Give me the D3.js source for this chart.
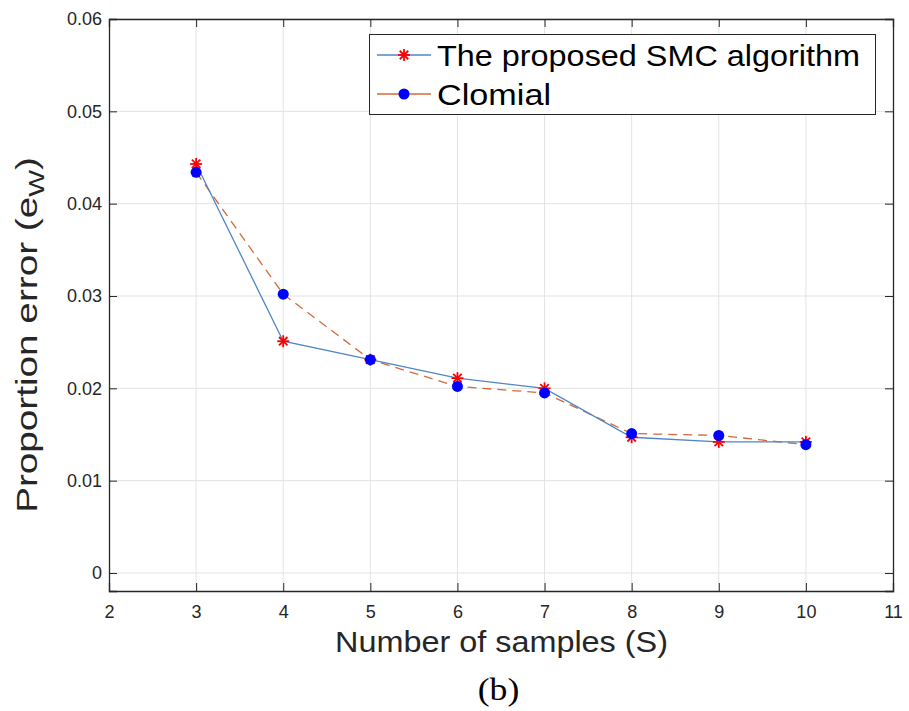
<!DOCTYPE html>
<html><head><meta charset="utf-8">
<script src="https://cdn.jsdelivr.net/npm/d3@7"></script>
<style>body{margin:0;background:#fff;} svg{display:block;font-family:"Liberation Sans",Arial,sans-serif;}</style>
</head><body>
<script>
const samples = [3,4,5,6,7,8,9,10];
const proposedSMC = [0.0443,0.0251,0.0231,0.0211,0.0200,0.0147,0.0142,0.0142];
const clomial =     [0.0434,0.0302,0.0231,0.0202,0.0195,0.0151,0.0149,0.0139];
const xTicks = [2,3,4,5,6,7,8,9,10,11];
const yTicks = [0,0.01,0.02,0.03,0.04,0.05,0.06];
const seriesNames = ["The proposed SMC algorithm","Clomial"];

const W=909,H=711;
const svg=d3.select("body").append("svg").attr("width",W).attr("height",H);
const L=109,R=893,T=19,B=591;
const x=d3.scaleLinear().domain([2,11]).range([L,R]);
const y=d3.scaleLinear().domain([-0.00195,0.06]).range([B,T]);
const axisCol="#262626";

// grid
svg.append("g").selectAll("line").data(xTicks.slice(1,-1)).join("line")
  .attr("x1",d=>x(d)).attr("x2",d=>x(d)).attr("y1",T).attr("y2",B)
  .attr("stroke","#e3e3e3").attr("stroke-width",1);
svg.append("g").selectAll("line").data(yTicks).join("line")
  .attr("x1",L).attr("x2",R).attr("y1",d=>y(d)).attr("y2",d=>y(d))
  .attr("stroke","#e3e3e3").attr("stroke-width",1);

// axes
const fmtY=d=>d===0?"0":d3.format(".2f")(d);
const gx=svg.append("g").attr("transform",`translate(0,${B})`)
  .call(d3.axisBottom(x).tickValues(xTicks).tickSize(-8).tickPadding(14).tickFormat(d3.format("d")));
const gy=svg.append("g").attr("transform",`translate(${L},0)`)
  .call(d3.axisLeft(y).tickValues(yTicks).tickSize(-8).tickPadding(7).tickFormat(fmtY));
const gx2=svg.append("g").attr("transform",`translate(0,${T})`)
  .call(d3.axisTop(x).tickValues(xTicks).tickSize(-8).tickFormat(""));
const gy2=svg.append("g").attr("transform",`translate(${R},0)`)
  .call(d3.axisRight(y).tickValues(yTicks).tickSize(-8).tickFormat(""));
[gx,gy,gx2,gy2].forEach(g=>{
  g.selectAll("path").attr("stroke",axisCol).attr("stroke-width",1.3);
  g.selectAll("line").attr("stroke",axisCol).attr("stroke-width",1);
  g.selectAll("text").attr("fill",axisCol).attr("font-size",18).attr("font-family","Liberation Sans, Arial, sans-serif");
});

// lines
const lineBlue="#4f86c6", lineOrange="#d26a3a";
const lineGen=d3.line().x(d=>x(d[0])).y(d=>y(d[1]));
const smcPts=samples.map((s,i)=>[s,proposedSMC[i]]);
const cloPts=samples.map((s,i)=>[s,clomial[i]]);
svg.append("path").datum(cloPts).attr("d",lineGen).attr("fill","none")
  .attr("stroke",lineOrange).attr("stroke-width",1.3).attr("stroke-dasharray","9,6");
svg.append("path").datum(smcPts).attr("d",lineGen).attr("fill","none")
  .attr("stroke",lineBlue).attr("stroke-width",1.3);

function asterisk(g,cx,cy,r){
  const gg=g.append("g").attr("transform",`translate(${cx},${cy})`);
  [0,45,90,135].forEach(a=>{
    const rad=a*Math.PI/180;
    gg.append("line").attr("x1",-r*Math.cos(rad)).attr("y1",-r*Math.sin(rad))
      .attr("x2",r*Math.cos(rad)).attr("y2",r*Math.sin(rad))
      .attr("stroke","#ff0000").attr("stroke-width",1.8);
  });
}
const mk=svg.append("g");
smcPts.forEach(p=>asterisk(mk,x(p[0]),y(p[1]),6));
mk.selectAll("circle").data(cloPts).join("circle")
  .attr("cx",d=>x(d[0])).attr("cy",d=>y(d[1])).attr("r",5.5).attr("fill","#0000ff");

// legend
const lg=svg.append("g");
lg.append("rect").attr("x",369.5).attr("y",34.5).attr("width",506).attr("height",80)
  .attr("fill","#fff").attr("stroke",axisCol).attr("stroke-width",1);
const rows=[55,94];
lg.append("line").attr("x1",377).attr("x2",431).attr("y1",rows[0]).attr("y2",rows[0]).attr("stroke",lineBlue).attr("stroke-width",1.3);
asterisk(lg,404,rows[0],6);
lg.append("line").attr("x1",377).attr("x2",431).attr("y1",rows[1]).attr("y2",rows[1]).attr("stroke",lineOrange).attr("stroke-width",1.3);
lg.append("circle").attr("cx",404).attr("cy",rows[1]).attr("r",5.5).attr("fill","#0000ff");
const legLens=[423,114];
lg.selectAll("text").data(seriesNames).join("text")
  .attr("x",437).attr("y",(d,i)=>rows[i]+11).attr("font-size",30).attr("fill","#000")
  .attr("textLength",(d,i)=>legLens[i]).attr("lengthAdjust","spacingAndGlyphs").text(d=>d);

// axis labels
svg.append("text").attr("x",501.5).attr("y",652).attr("text-anchor","middle")
  .attr("font-size",29).attr("fill",axisCol)
  .attr("textLength",333).attr("lengthAdjust","spacingAndGlyphs").text("Number of samples (S)");
const yl=svg.append("text").attr("transform","translate(37,335) rotate(-90) scale(1.29,1)").attr("text-anchor","middle")
  .attr("font-size",30).attr("fill",axisCol);
yl.append("tspan").text("Proportion error (e");
yl.append("tspan").attr("font-size",22).attr("dy",7).text("W");
yl.append("tspan").attr("dy",-7).text(")");

svg.append("text").attr("transform","translate(498.5,700) scale(1.15,1)").attr("text-anchor","middle")
  .attr("font-family","Liberation Serif, Times New Roman, serif").attr("font-size",31).attr("fill","#000").text("(b)");
</script>
</body></html>
